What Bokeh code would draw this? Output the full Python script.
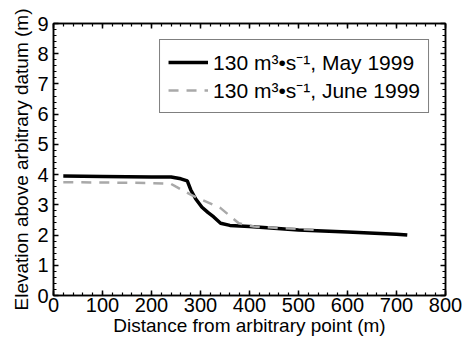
from bokeh.plotting import figure
from bokeh.models import LinearAxis, Range1d, Legend, LegendItem, FixedTicker
from bokeh.embed import file_html
from bokeh.resources import INLINE

# Data
may_x = [20, 100, 200, 240, 260, 273, 280, 290, 303, 315, 327, 341, 360, 400, 500, 600, 700, 722]
may_y = [3.95, 3.94, 3.92, 3.92, 3.86, 3.79, 3.5, 3.2, 2.92, 2.75, 2.6, 2.39, 2.32, 2.28, 2.17, 2.1, 2.03, 2.0]
june_x = [20, 100, 200, 239, 250, 283, 341, 378, 409, 500, 540]
june_y = [3.75, 3.74, 3.72, 3.7, 3.6, 3.31, 2.89, 2.39, 2.28, 2.2, 2.17]

x_ticks = [0, 100, 200, 300, 400, 500, 600, 700, 800]
y_ticks = [0, 1, 2, 3, 4, 5, 6, 7, 8, 9]
x_minor = [i * 20 for i in range(41)]
y_minor = [i * 0.2 for i in range(46)]

label_may = "130 m\u00b3\u2022s\u207b\u00b9, May 1999"
label_june = "130 m\u00b3\u2022s\u207b\u00b9, June 1999"

FONT = "Liberation Sans"

p = figure(width=472, height=338, output_backend="svg", toolbar_location=None,
           x_range=Range1d(0, 800), y_range=Range1d(0, 9),
           min_border_left=53, min_border_right=27, min_border_top=23, min_border_bottom=43)
p.grid.visible = False
p.outline_line_color = "black"
p.outline_line_width = 1.5
p.background_fill_color = "white"

def style_axis(ax, ticks, minor, show_labels=True):
    ax.ticker = FixedTicker(ticks=ticks, minor_ticks=minor)
    ax.major_tick_in = 5
    ax.major_tick_out = 0
    ax.minor_tick_in = 3
    ax.minor_tick_out = 0
    ax.axis_line_color = "black"
    ax.axis_line_width = 1.5
    ax.major_tick_line_width = 1.5
    ax.minor_tick_line_width = 1.2
    ax.major_label_text_font = FONT
    ax.major_label_text_font_size = "20px"
    ax.major_label_text_color = "black"
    ax.axis_label_text_font = FONT
    ax.axis_label_text_font_size = "19px"
    ax.axis_label_text_font_style = "normal"
    ax.axis_label_text_color = "black"
    if not show_labels:
        ax.major_label_overrides = {t: "" for t in ticks}
        ax.major_label_standoff = 0

style_axis(p.xaxis[0], x_ticks, x_minor)
style_axis(p.yaxis[0], y_ticks, y_minor)
p.xaxis[0].axis_label = "Distance from arbitrary point (m)"
p.yaxis[0].axis_label = "Elevation above arbitrary datum (m)"
p.xaxis[0].major_label_standoff = 2
p.yaxis[0].major_label_standoff = 5
p.xaxis[0].axis_label_standoff = 0
p.yaxis[0].axis_label_standoff = 2

top = LinearAxis()
right = LinearAxis()
style_axis(top, x_ticks, x_minor, show_labels=False)
style_axis(right, y_ticks, y_minor, show_labels=False)
p.add_layout(top, "above")
p.add_layout(right, "right")

r_may = p.line(may_x, may_y, line_color="black", line_width=3.5)
r_june = p.line(june_x, june_y, line_color="#a9a9a9", line_width=2.5, line_dash="10 8")

legend = Legend(items=[LegendItem(label=label_may, renderers=[r_may]),
                       LegendItem(label=label_june, renderers=[r_june])],
                location="top_right")
legend.margin = 16
legend.border_line_color = "black"
legend.border_line_width = 1.5
legend.label_text_font = FONT
legend.label_text_font_size = "21px"
legend.label_text_line_height = 0.9
legend.label_text_color = "black"
legend.glyph_width = 40
legend.glyph_height = 20
legend.padding = 8
legend.spacing = 0
legend.label_standoff = 5
legend.label_height = 20
p.add_layout(legend, "center")

open("out.html", "w").write(file_html(p, INLINE))
